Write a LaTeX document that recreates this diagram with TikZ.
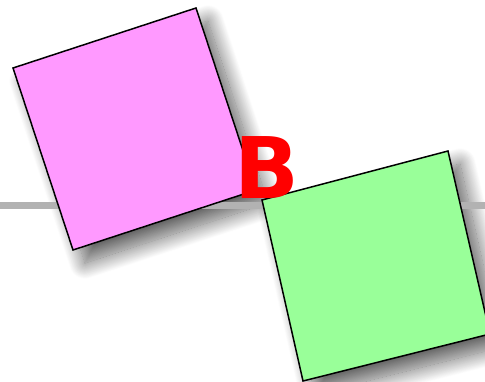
\documentclass[tikz,border=0pt]{standalone}
\usepackage{fontspec}
\newfontfamily\dvsans{DejaVu Sans}
\usetikzlibrary{shadows.blur}
\definecolor{pinkfill}{HTML}{FF99FF}
\definecolor{greenfill}{HTML}{99FF99}
\tikzset{
  sq/.style={draw=black, line width=1.5pt, line join=miter},
  shad/.style={blur shadow={shadow xshift=12pt, shadow yshift=-13pt, shadow blur radius=16pt, shadow opacity=62, shadow blur steps=30}},
  baseline line/.style={draw=black!30, line width=7pt},
  bigletter/.style={text=red, font=\dvsans\bfseries\fontsize{85}{85}\selectfont, inner sep=0pt, anchor=base}
}
\begin{document}
\begin{tikzpicture}[x=1pt,y=-1pt]
\useasboundingbox (0,0) rectangle (485,382);
\clip (0,0) rectangle (485,382);
% corners
\coordinate (p1) at (13,68);
\coordinate (p2) at (196,8);
\coordinate (p3) at (256,190);
\coordinate (p4) at (73,250);
\coordinate (g1) at (262,200);
\coordinate (g2) at (448,151);
\coordinate (g3) at (490,334);
\coordinate (g4) at (303,381);
\coordinate (lineL) at (-5,205.5);
\coordinate (lineR) at (490,205.5);
% shadows
\path[shad] (p1) -- (p2) -- (p3) -- (p4) -- cycle;
\path[shad] (g1) -- (g2) -- (g3) -- (g4) -- cycle;
% horizontal line
\draw[baseline line] (lineL) -- (lineR);
% squares
\filldraw[sq, fill=pinkfill] (p1) -- (p2) -- (p3) -- (p4) -- cycle;
\filldraw[sq, fill=greenfill] (g1) -- (g2) -- (g3) -- (g4) -- cycle;
% letter
\node[bigletter] (B) at (267,198.5) {B};
\end{tikzpicture}
\end{document}
